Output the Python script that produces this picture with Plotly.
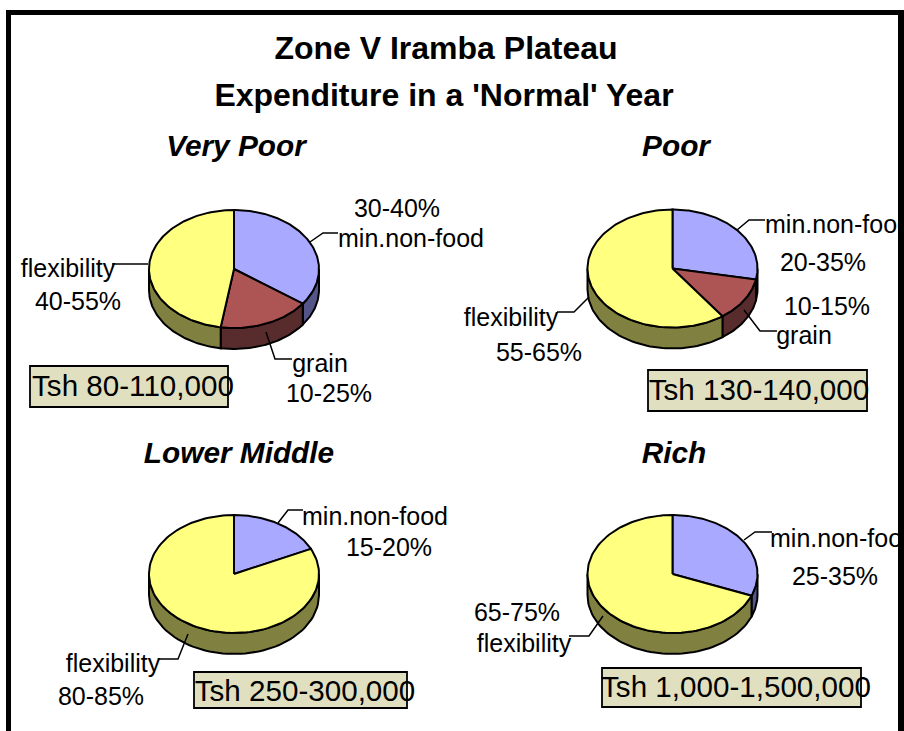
import numpy as np
import plotly.graph_objects as go

# ---------- data ----------
TITLE_LINES = ["Zone V Iramba Plateau", "Expenditure in a 'Normal' Year"]
GROUPS = ["Very Poor", "Poor", "Lower Middle", "Rich"]
CATEGORIES = ["min.non-food", "grain", "flexibility"]
VERY_POOR = [35, 17.5, 47.5]
POOR = [28, 12, 60]
LOWER_MIDDLE = [18, 0, 82]
RICH = [31, 0, 69]
INCOMES = ["Tsh 80-110,000", "Tsh 130-140,000", "Tsh 250-300,000", "Tsh 1,000-1,500,000"]
RANGES_VERY_POOR = ["30-40%", "10-25%", "40-55%"]
RANGES_POOR = ["20-35%", "10-15%", "55-65%"]
RANGES_LOWER_MIDDLE = ["15-20%", "", "80-85%"]
RANGES_RICH = ["25-35%", "", "65-75%"]

# ---------- style / layout ----------
TOP = ["#A9A9FF", "#AD5555", "#FFFF80"]
SIDE = ["#55558A", "#582C2C", "#808040"]
FONT = "Liberation Sans, Arial, sans-serif"
LABEL_SIZE = 25
INCOME_SIZE = 29.6
GROUP_SIZE = 29.8
BOX_FILL = "#E0E0C0"
RX, RY, DEPTH = 85, 59, 21
TEXT_DY = 2.5

pies = [
    dict(v=VERY_POOR, cx=234, cy=269, r=RANGES_VERY_POOR, sub=(236, 146),
         box=(30, 366, 228, 407), inc=(133, 386),
         cat_pos=[(411, 238), (320, 363), (68, 268)],
         rng_pos=[(397, 208), (329, 393), (78, 301)],
         leaders=[[(310, 242), (323, 233), (338, 233)],
                  [(266, 332), (275, 359), (292, 359)],
                  [(148, 264), (112, 264)]]),
    dict(v=POOR, cx=672.5, cy=268.5, r=RANGES_POOR, sub=(676, 146),
         box=(648, 370, 867, 411), inc=(759, 390),
         cat_pos=[(838, 224), (804, 335), (511, 317)],
         rng_pos=[(823, 262), (827, 306), (539, 352)],
         leaders=[[(737, 230), (749, 220), (765, 220)],
                  [(744, 310), (760, 331), (777, 331)],
                  [(589, 297), (574, 312), (557, 312)]]),
    dict(v=LOWER_MIDDLE, cx=234, cy=574, r=RANGES_LOWER_MIDDLE, sub=(239, 453),
         box=(194, 672, 407, 708), inc=(305, 691),
         cat_pos=[(375, 516), None, (113, 663)],
         rng_pos=[(389, 547), None, (101, 696)],
         leaders=[[(278, 523), (288, 510), (303, 510)], None,
                  [(188, 634), (178, 659), (158, 659)]]),
    dict(v=RICH, cx=672.5, cy=574, r=RANGES_RICH, sub=(674, 453),
         box=(602, 668, 861, 707), inc=(736, 687),
         cat_pos=[(843, 538), None, (524, 643)],
         rng_pos=[(835, 576), None, (517, 612)],
         leaders=[[(744, 540), (755, 532), (772, 532)], None,
                  [(603, 616), (589, 636), (569, 636)]]),
]

fig = go.Figure()
OUTLINE = dict(color="black", width=2)


def ell(cx, cy, deg, dy=0):
    t = np.radians(deg)
    return cx + RX * np.sin(t), cy - RY * np.cos(t) + dy


def add_text(x, y, text, size, bold=False, italic=False):
    fig.add_trace(go.Scatter(
        x=[x], y=[y + TEXT_DY], mode="text", text=[text], textposition="middle center",
        textfont=dict(family=FONT, size=size, color="black",
                      weight="bold" if bold else "normal",
                      style="italic" if italic else "normal"),
        hoverinfo="skip", showlegend=False, cliponaxis=False))


for p in pies:
    total = sum(p["v"])
    edges = np.concatenate([[0], np.cumsum(p["v"]) / total * 360])
    cx, cy = p["cx"], p["cy"]
    # side walls (only the front half is visible)
    for i, val in enumerate(p["v"]):
        a, b = max(edges[i], 90), min(edges[i + 1], 270)
        if val == 0 or b <= a:
            continue
        t = np.linspace(a, b, 60)
        xa, ya = ell(cx, cy, t)
        xb, yb = ell(cx, cy, t[::-1], DEPTH)
        fig.add_trace(go.Scatter(
            x=np.r_[xa, xb, xa[0]], y=np.r_[ya, yb, ya[0]], mode="lines",
            fill="toself", fillcolor=SIDE[i], line=OUTLINE,
            hoverinfo="skip", showlegend=False))
    # top faces
    for i, val in enumerate(p["v"]):
        if val == 0:
            continue
        t = np.linspace(edges[i], edges[i + 1], 120)
        xa, ya = ell(cx, cy, t)
        fig.add_trace(go.Scatter(
            x=np.r_[cx, xa, cx], y=np.r_[cy, ya, cy], mode="lines",
            fill="toself", fillcolor=TOP[i], line=OUTLINE,
            name=CATEGORIES[i], hoverinfo="skip", showlegend=False))
    # leader lines
    for ld in p["leaders"]:
        if ld:
            fig.add_trace(go.Scatter(
                x=[q[0] for q in ld], y=[q[1] for q in ld], mode="lines",
                line=dict(color="black", width=1.5),
                hoverinfo="skip", showlegend=False))
    # income boxes
    x0, y0, x1, y1 = p["box"]
    fig.add_shape(type="rect", x0=x0, y0=y0, x1=x1, y1=y1, layer="below",
                  fillcolor=BOX_FILL, line=dict(color="black", width=1.8))

for p, grp, inc in zip(pies, GROUPS, INCOMES):
    add_text(*p["sub"], grp, GROUP_SIZE, bold=True, italic=True)
    add_text(*p["inc"], inc, INCOME_SIZE)
    for i, cat in enumerate(CATEGORIES):
        if p["cat_pos"][i]:
            add_text(*p["cat_pos"][i], cat, LABEL_SIZE)
            add_text(*p["rng_pos"][i], p["r"][i], LABEL_SIZE)

add_text(446, 48, TITLE_LINES[0], 32, bold=True)
add_text(444, 95, TITLE_LINES[1], 32, bold=True)

# black frame, open at the bottom
for x0, y0, x1, y1 in [(6, 10, 11, 731), (6, 10, 904, 15), (898, 10, 904, 731)]:
    fig.add_shape(type="rect", x0=x0, y0=y0, x1=x1, y1=y1, layer="above",
                  fillcolor="black", line=dict(width=0))

axis = dict(visible=False, showgrid=False, zeroline=False, fixedrange=True)
fig.update_layout(
    width=904, height=731, margin=dict(l=0, r=0, t=0, b=0),
    paper_bgcolor="white", plot_bgcolor="white", showlegend=False,
    xaxis=dict(axis, range=[0, 904]),
    yaxis=dict(axis, range=[731, 0]),
)
fig.write_html(
    "out.html", config={"displayModeBar": False},
    post_script="document.body.style.margin='0';document.body.style.overflow='hidden';",
)
